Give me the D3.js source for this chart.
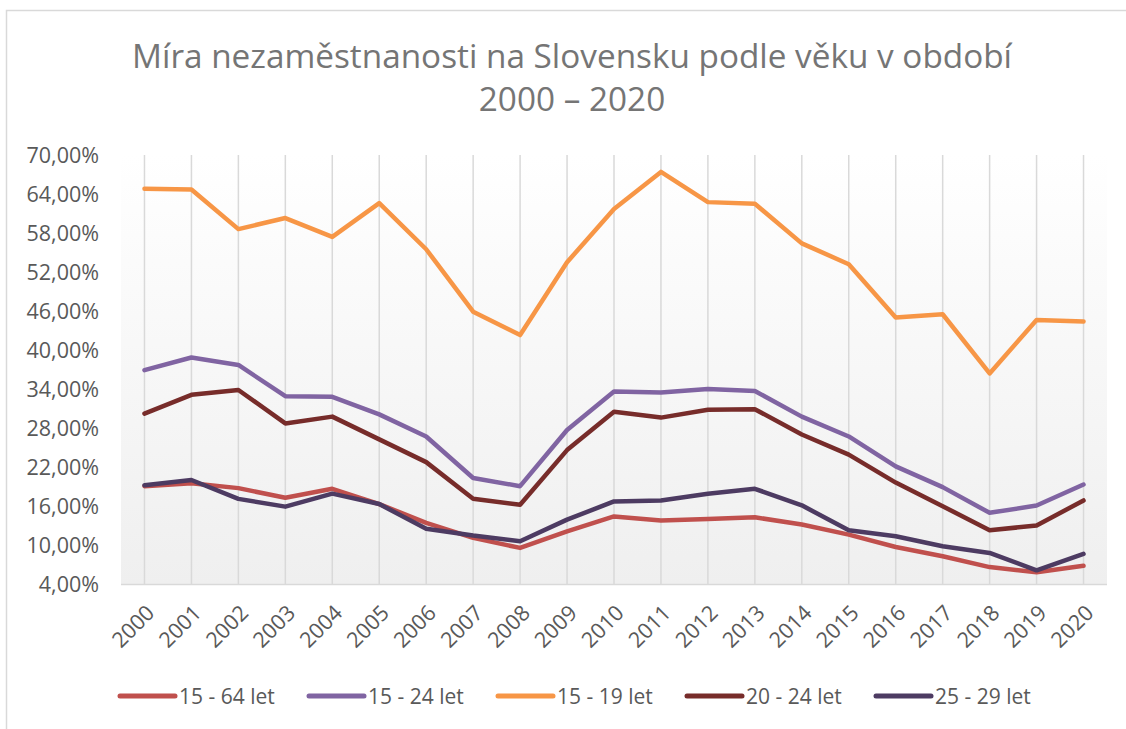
<!DOCTYPE html>
<html>
<head>
<meta charset="utf-8">
<script src="https://cdn.jsdelivr.net/npm/d3@7"></script>
<style>
  html, body { margin: 0; padding: 0; background: #ffffff; }
  svg { display: block; }
  text { font-family: "Open Sans", "Noto Sans", sans-serif; }
</style>
</head>
<body>
<svg id="chart" width="1126" height="729"></svg>
<script>
// ---- data ----
const years = ["2000","2001","2002","2003","2004","2005","2006","2007","2008","2009","2010",
               "2011","2012","2013","2014","2015","2016","2017","2018","2019","2020"];
const seriesNames = ["15 - 64 let", "15 - 24 let", "15 - 19 let", "20 - 24 let", "25 - 29 let"];
const v1564 = [19.05,19.5,18.75,17.26,18.65,16.3,13.4,11.1,9.55,12.1,14.4,13.76,14.0,14.27,13.15,11.6,9.7,8.26,6.6,5.8,6.8];
const v1524 = [36.9,38.85,37.7,32.9,32.8,30.1,26.7,20.3,19.05,27.7,33.6,33.45,34.0,33.7,29.75,26.7,22.1,18.9,14.95,16.07,19.3];
const v1519 = [64.8,64.7,58.6,60.3,57.4,62.6,55.5,45.9,42.3,53.5,61.7,67.4,62.75,62.5,56.4,53.2,45.0,45.5,36.4,44.6,44.4];
const v2024 = [30.2,33.1,33.85,28.7,29.75,26.25,22.75,17.1,16.2,24.6,30.5,29.6,30.8,30.9,27.0,23.9,19.6,15.97,12.27,13.0,16.85];
const v2529 = [19.2,20.0,17.1,15.9,17.9,16.3,12.5,11.45,10.57,13.9,16.7,16.85,17.9,18.65,16.1,12.27,11.34,9.8,8.78,6.1,8.63];
const yTicks = [4,10,16,22,28,34,40,46,52,58,64,70];
const titleLines = ["Míra nezaměstnanosti na Slovensku podle věku v období", "2000 – 2020"];
const colors = ["#c0504d", "#8064a2", "#f79646", "#772c2a", "#4d3b62"];

const seriesValues = [v1564, v1524, v1519, v2024, v2529];

// ---- layout ----
const svg = d3.select("#chart");
const plot = { left: 121, right: 1107, top: 155, bottom: 584 };

// outer chart border
svg.append("rect")
  .attr("x", 6.5).attr("y", 10.5)
  .attr("width", 1140).attr("height", 740)
  .attr("fill", "#ffffff").attr("stroke", "#d9d9d9").attr("stroke-width", 1.5);

// plot background gradient
const defs = svg.append("defs");
const grad = defs.append("linearGradient").attr("id", "bg")
  .attr("x1", 0).attr("y1", 0).attr("x2", 0).attr("y2", 1);
grad.append("stop").attr("offset", "0%").attr("stop-color", "#ffffff");
grad.append("stop").attr("offset", "100%").attr("stop-color", "#efefef");
svg.append("rect")
  .attr("x", plot.left).attr("y", plot.top)
  .attr("width", plot.right - plot.left).attr("height", plot.bottom - plot.top)
  .attr("fill", "url(#bg)");

const x = d3.scaleBand().domain(years).range([plot.left, plot.right]).padding(0);
const y = d3.scaleLinear().domain([4, 70]).range([plot.bottom, plot.top]);
const cx = d => x(d) + x.bandwidth() / 2;

// vertical gridlines
svg.append("g").selectAll("line").data(years).join("line")
  .attr("x1", d => cx(d)).attr("x2", d => cx(d))
  .attr("y1", plot.top).attr("y2", plot.bottom)
  .attr("stroke", "#d9d9d9").attr("stroke-width", 1.5);

// bottom axis line
svg.append("line")
  .attr("x1", plot.left).attr("x2", plot.right)
  .attr("y1", plot.bottom + 0.5).attr("y2", plot.bottom + 0.5)
  .attr("stroke", "#d9d9d9").attr("stroke-width", 1.5);

// y axis labels
const fmt = v => d3.format(".2f")(v).replace(".", ",") + "%";
svg.append("g").selectAll("text").data(yTicks).join("text")
  .attr("x", 99).attr("y", d => y(d))
  .attr("dy", "0.36em")
  .attr("text-anchor", "end")
  .attr("fill", "#595959")
  .attr("font-size", 21.5)
  .text(d => fmt(d));

// x axis labels rotated
svg.append("g").selectAll("text").data(years).join("text")
  .attr("transform", d => `translate(${cx(d) + 6},${plot.bottom + 25}) rotate(-45)`)
  .attr("text-anchor", "end")
  .attr("dy", "0.35em")
  .attr("fill", "#595959")
  .attr("font-size", 21.5)
  .text(d => d);

// lines
const line = d3.line()
  .x((d, i) => cx(years[i]))
  .y(d => y(d));
seriesValues.forEach((vals, k) => {
  svg.append("path")
    .datum(vals)
    .attr("d", line)
    .attr("fill", "none")
    .attr("stroke", colors[k])
    .attr("stroke-width", 4.5)
    .attr("stroke-linejoin", "round")
    .attr("stroke-linecap", "round");
});

// title
const t1 = svg.append("text")
  .attr("x", 572).attr("y", 68)
  .attr("text-anchor", "middle")
  .attr("fill", "#757575")
  .attr("font-size", 32)
  .text(titleLines[0]);
const w1 = t1.node().getComputedTextLength();
t1.attr("textLength", 880).attr("lengthAdjust", "spacingAndGlyphs");
const t2 = svg.append("text")
  .attr("x", 572).attr("y", 111)
  .attr("text-anchor", "middle")
  .attr("fill", "#757575")
  .attr("font-size", 32)
  .text(titleLines[1]);
const w2 = t2.node().getComputedTextLength();
t2.attr("textLength", w2 * 880 / w1).attr("lengthAdjust", "spacingAndGlyphs");

// legend
const legendX0 = 120, legendStep = 189, legendY = 696;
const lg = svg.append("g").selectAll("g").data(seriesNames).join("g")
  .attr("transform", (d, i) => `translate(${legendX0 + i * legendStep},${legendY})`);
lg.append("line")
  .attr("x1", 0).attr("x2", 55).attr("y1", 0).attr("y2", 0)
  .attr("stroke", (d, i) => colors[i])
  .attr("stroke-width", 5)
  .attr("stroke-linecap", "round");
lg.append("text")
  .attr("x", 59).attr("y", 0).attr("dy", "0.36em")
  .attr("fill", "#595959")
  .attr("font-size", 21)
  .text(d => d);
</script>
</body>
</html>
